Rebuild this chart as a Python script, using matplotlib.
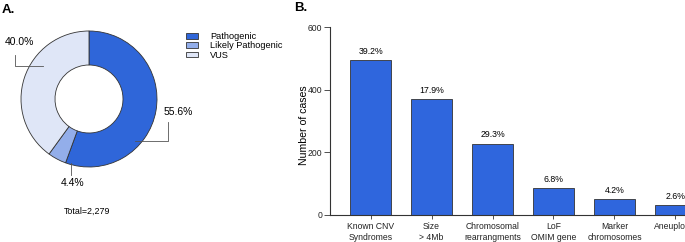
import matplotlib
matplotlib.use('Agg')
import matplotlib.pyplot as plt
from matplotlib.patches import Patch
import numpy as np

plt.rcParams['font.family'] = ['Liberation Sans', 'DejaVu Sans']

# 饼图数据
pie_labels = ['Pathogenic', 'Likely Pathogenic', 'VUS']
pie_values = [55.6, 4.4, 40.0]
pie_colors = ['#2f66d9', '#93aeea', '#dfe6f7']
total_text = 'Total=2,279'

# 柱状图数据
bar_labels = ['Known CNV\nSyndromes', 'Size\n> 4Mb', 'Chromosomal\nrearrangments',
              'LoF\nOMIM gene', 'Marker\nchromosomes', 'Aneuploidy']
bar_values = [495, 370, 227, 86, 51, 32]
bar_pcts = ['39.2%', '17.9%', '29.3%', '6.8%', '4.2%', '2.6%']

W, H = 685, 242
fig = plt.figure(figsize=(W / 100, H / 100), dpi=100)

# ---- A. 环形图 ----
cx, cy, r = 89, 99, 68
x0, x1, y0, y1 = 0, 182, 20, 232
ax1 = fig.add_axes([x0 / W, 1 - y1 / H, (x1 - x0) / W, (y1 - y0) / H])
ax1.pie(pie_values, colors=pie_colors, startangle=90, counterclock=False,
        radius=1, wedgeprops=dict(width=0.5, edgecolor='#333333', linewidth=0.6))
ax1.set_aspect('auto')
ax1.set_xlim((x0 - cx) / r, (x1 - cx) / r)
ax1.set_ylim((cy - y1) / r, (cy - y0) / r)
ax1.axis('off')

lc = '#555555'
# 55.6%
ax1.plot([0.676, 1.16, 1.16], [-0.618, -0.618, -0.338], color=lc, lw=0.6)
ax1.text(1.31, -0.19, '55.6%', ha='center', va='center', fontsize=7.5)
# 4.4%
ax1.plot([-0.265, -0.265], [-0.94, -1.12], color=lc, lw=0.6)
ax1.text(-0.235, -1.24, '4.4%', ha='center', va='center', fontsize=7.5)
# 40.0%
ax1.plot([-0.676, -1.088, -1.088], [0.485, 0.485, 0.647], color=lc, lw=0.6)
ax1.text(-1.03, 0.84, '40.0%', ha='center', va='center', fontsize=7.5)

ax1.text(-0.03, -1.65, total_text, ha='center', va='center', fontsize=6.4)

handles = [Patch(facecolor=c, edgecolor='#333333', linewidth=0.6) for c in pie_colors]
fig.legend(handles, pie_labels, loc='upper left', bbox_to_anchor=(186 / W, 1 - 32 / H),
           frameon=False, fontsize=6.6, handlelength=1.3, handleheight=0.55,
           labelspacing=0.05, handletextpad=1.3, borderaxespad=0, borderpad=0)

fig.text(2 / W, 1 - 10 / H, 'A.', fontsize=9.5, fontweight='bold', va='center', ha='left')
fig.text(294 / W, 1 - 8 / H, 'B.', fontsize=9.5, fontweight='bold', va='center', ha='left')

# ---- B. 柱状图 ----
ax2 = fig.add_axes([330 / W, 1 - 215 / H, (716 - 330) / W, (215 - 27) / H])
x = np.arange(len(bar_values))
ax2.bar(x, bar_values, width=0.656, color='#2f66dd', edgecolor='#333333', linewidth=0.6)
for xi, v, p in zip(x, bar_values, bar_pcts):
    ax2.text(xi, v + 14, p, ha='center', va='bottom', fontsize=6.3)
ax2.set_xlim(-0.664, len(bar_values) - 1 + 0.664)
ax2.set_ylim(0, 600)
ax2.set_yticks([0, 200, 400, 600])
ax2.set_xticks(x)
ax2.set_xticklabels(bar_labels, fontsize=6.2, linespacing=1.25)
ax2.tick_params(axis='y', labelsize=6.2, length=4, width=0.6, pad=1.5, colors='#333333')
ax2.tick_params(axis='x', length=3, width=0.6, pad=2, colors='#333333')
for lab in ax2.get_xticklabels() + ax2.get_yticklabels():
    lab.set_color('#222222')
ax2.spines['top'].set_visible(False)
ax2.spines['right'].set_visible(False)
ax2.spines['left'].set_linewidth(0.8)
ax2.spines['bottom'].set_linewidth(0.8)
ax2.spines['left'].set_color('#333333')
ax2.spines['bottom'].set_color('#333333')
ax2.set_ylabel('Number of cases', fontsize=7.6)
ax2.yaxis.set_label_coords(-0.054, 0.48)

fig.savefig('out.png', dpi=100)
